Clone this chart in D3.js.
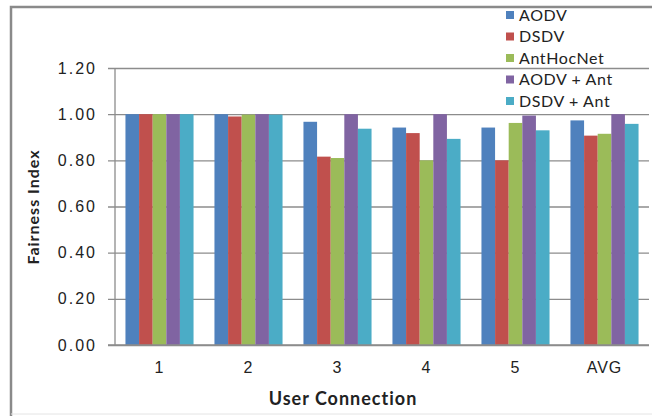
<!DOCTYPE html>
<html>
<head>
<meta charset="utf-8">
<script src="https://cdn.jsdelivr.net/npm/d3@7"></script>
<style>
  html, body { margin: 0; padding: 0; background: #fff; }
  svg { display: block; font-family: Lato, "Open Sans", sans-serif; }
</style>
</head>
<body>
<svg id="chart" width="652" height="416"></svg>
<script>
// Fairness index per user connection for each routing protocol
const categories = ["1", "2", "3", "4", "5", "AVG"];
const seriesNames = ["AODV", "DSDV", "AntHocNet", "AODV + Ant", "DSDV + Ant"];
const aodv      = [1.00, 1.00, 0.967, 0.942, 0.942, 0.973];
const dsdv      = [1.00, 0.99, 0.816, 0.918, 0.800, 0.907];
const antHocNet = [1.00, 0.998, 0.810, 0.800, 0.962, 0.915];
const aodvAnt   = [1.00, 1.00, 1.00, 1.00, 0.994, 1.00];
const dsdvAnt   = [1.00, 0.998, 0.937, 0.893, 0.930, 0.958];
const yTicks = [0, 0.2, 0.4, 0.6, 0.8, 1.0, 1.2];
const colors = ["#4F81BD", "#C0504D", "#9BBB59", "#8064A2", "#4BACC6"];

const seriesValues = [aodv, dsdv, antHocNet, aodvAnt, dsdvAnt];

const svg = d3.select("#chart");
const plot = { left: 115, right: 649, top: 68, bottom: 345 };

// outer chart frame
svg.append("path")
  .attr("d", "M11,420 L11,7 L660,7")
  .attr("fill", "none").attr("stroke", "#8a8a8a").attr("stroke-width", 2.5);
svg.append("line")
  .attr("x1", 11).attr("x2", 660).attr("y1", 414).attr("y2", 414)
  .attr("stroke", "#e4e4e4").attr("stroke-width", 1);

const x0 = d3.scaleBand().domain(categories).range([plot.left, plot.right]).paddingInner(0.235).paddingOuter(0.1175);
const x1 = d3.scaleBand().domain(seriesNames).range([0, x0.bandwidth()]);
const y = d3.scaleLinear().domain([0, 1.2]).range([plot.bottom, plot.top]);

// horizontal gridlines with short ticks left of the axis
const yAxis = d3.axisLeft(y).tickValues(yTicks).tickFormat(d3.format(".2f"))
  .tickSize(-(plot.right - plot.left)).tickPadding(18);
const gy = svg.append("g").attr("transform", `translate(${plot.left},0)`).call(yAxis);
gy.select(".domain").remove();
gy.selectAll(".tick line").attr("stroke", "#8c8c8c").attr("stroke-width", 1.3)
  .attr("x1", -7);
gy.selectAll(".tick text").attr("font-size", 16).attr("letter-spacing", 2).attr("fill", "#222");

// vertical axis line
svg.append("line")
  .attr("x1", plot.left).attr("x2", plot.left).attr("y1", plot.top).attr("y2", plot.bottom)
  .attr("stroke", "#8c8c8c").attr("stroke-width", 1.3);

// bars
const groups = svg.append("g").selectAll("g")
  .data(categories)
  .join("g")
  .attr("transform", d => `translate(${x0(d)},0)`);

groups.selectAll("rect")
  .data((c, i) => seriesNames.map((s, k) => ({ s, k, v: seriesValues[k][i] })))
  .join("rect")
  .attr("x", d => x1(d.s))
  .attr("width", x1.bandwidth())
  .attr("y", d => y(d.v))
  .attr("height", d => y(0) - y(d.v))
  .attr("fill", d => colors[d.k]);

// x axis baseline and category labels
const xAxis = d3.axisBottom(x0).tickSize(0).tickPadding(17);
const gx = svg.append("g").attr("transform", `translate(0,${plot.bottom})`).call(xAxis);
gx.select(".domain").attr("d", `M${plot.left - 7},0H${plot.right}`)
  .attr("stroke", "#8c8c8c").attr("stroke-width", 1.3);
gx.selectAll(".tick text").attr("font-size", 16).attr("letter-spacing", 1).attr("fill", "#222");

// axis titles
svg.append("text")
  .attr("x", 343).attr("y", 405)
  .attr("text-anchor", "middle").attr("font-size", 18).attr("font-weight", "bold")
  .attr("letter-spacing", 1).attr("fill", "#222").text("User Connection");
svg.append("text")
  .attr("transform", "translate(39,207) rotate(-90)")
  .attr("text-anchor", "middle").attr("font-size", 16).attr("font-weight", "bold")
  .attr("letter-spacing", 1).attr("fill", "#222").text("Fairness Index");

// legend
const legend = svg.append("g").attr("transform", "translate(506,9)");
const item = legend.selectAll("g").data(seriesNames).join("g")
  .attr("transform", (d, i) => `translate(0,${i * 21.5})`);
item.append("rect").attr("width", 8).attr("height", 8).attr("y", 2)
  .attr("fill", (d, i) => colors[i]);
item.append("text").attr("x", 13).attr("y", 11.5).attr("font-size", 16)
  .attr("letter-spacing", 0.6).attr("fill", "#222").text(d => d);
</script>
</body>
</html>
